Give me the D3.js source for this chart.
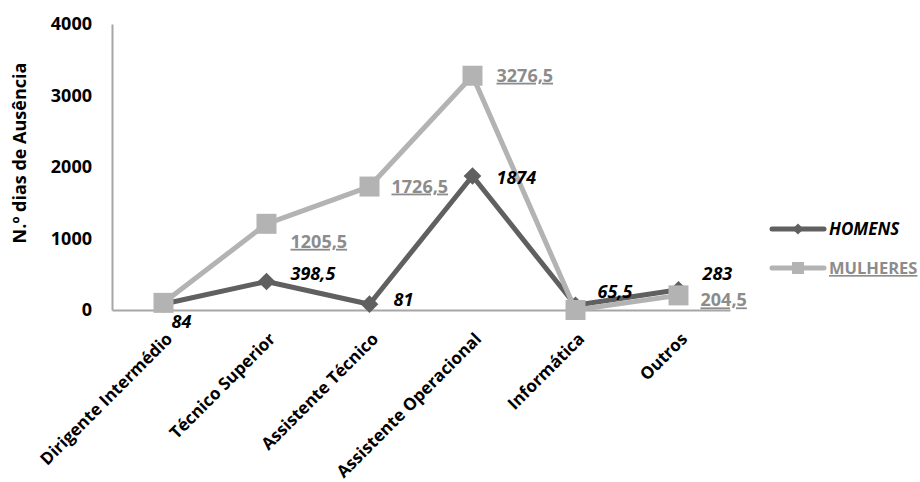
<!DOCTYPE html>
<html>
<head>
<meta charset="utf-8">
<script src="https://cdn.jsdelivr.net/npm/d3@7"></script>
<style>
  body { margin: 0; background: #fff; }
  svg text { font-family: "Open Sans", sans-serif; font-weight: bold; }
</style>
</head>
<body>
<svg id="chart" width="920" height="482"></svg>
<script>
// Absence days per professional category
const categories = ["Dirigente Intermédio", "Técnico Superior", "Assistente Técnico",
                    "Assistente Operacional", "Informática", "Outros"];
const homens   = [84, 398.5, 81, 1874, 65.5, 283];
const mulheres = [100, 1205.5, 1726.5, 3276.5, 0, 204.5];
const yTicks   = [0, 1000, 2000, 3000, 4000];
const seriesNames = ["HOMENS", "MULHERES"];

const fmt = v => String(v).replace(".", ",");

const svg = d3.select("#chart");
const plotLeft = 112, plotRight = 730, plotTop = 24, plotBottom = 310;

const x = d3.scaleBand().domain(categories).range([plotLeft, plotRight]);
const y = d3.scaleLinear().domain([0, 4000]).range([plotBottom, plotTop]);
const cx = c => x(c) + x.bandwidth() / 2;

// axes
const yAxis = svg.append("g").attr("transform", `translate(${plotLeft},0)`)
  .call(d3.axisLeft(y).tickValues(yTicks).tickSize(0).tickPadding(20).tickFormat(d3.format("d")));
yAxis.select(".domain").attr("stroke", "#a6a6a6").attr("stroke-width", 2);
yAxis.selectAll("text").attr("font-size", 18).attr("fill", "#000");

const xAxis = svg.append("g").attr("transform", `translate(0,${plotBottom})`)
  .call(d3.axisBottom(x).tickSize(0).tickPadding(0));
xAxis.select(".domain").attr("stroke", "#a6a6a6").attr("stroke-width", 2);
xAxis.selectAll("text")
  .attr("font-size", 17).attr("fill", "#000")
  .attr("text-anchor", "end")
  .attr("dy", 0)
  .attr("transform", "translate(10,30) rotate(-45)");

svg.append("text")
  .attr("transform", `translate(26,${(plotTop + plotBottom) / 2 - 14}) rotate(-90)`)
  .attr("text-anchor", "middle")
  .attr("font-size", 18).attr("fill", "#000")
  .text("N.º dias de Ausência");

const line = d3.line().x((d, i) => cx(categories[i])).y(d => y(d));

const cH = "#606060", cM = "#b3b3b3";

// HOMENS series: line + diamond markers
svg.append("path").datum(homens).attr("d", line)
  .attr("fill", "none").attr("stroke", cH).attr("stroke-width", 5).attr("stroke-linejoin", "round");
const diamond = d3.symbol().type(d3.symbolDiamond2).size(200);
svg.selectAll(".mh").data(homens).enter().append("path")
  .attr("d", diamond)
  .attr("transform", (d, i) => `translate(${cx(categories[i])},${y(d)})`)
  .attr("fill", cH);

// MULHERES series: line + square markers (drawn on top)
svg.append("path").datum(mulheres).attr("d", line)
  .attr("fill", "none").attr("stroke", cM).attr("stroke-width", 5).attr("stroke-linejoin", "round");
svg.selectAll(".mm").data(mulheres).enter().append("rect")
  .attr("x", (d, i) => cx(categories[i]) - 10)
  .attr("y", d => y(d) - 10)
  .attr("width", 20).attr("height", 20)
  .attr("fill", cM);

// data labels
const hOff = [[8, 18], [24, -8], [24, -4], [24, 2], [22, -13], [24, -16]];
svg.selectAll(".lh").data(homens).enter().append("text")
  .attr("x", (d, i) => cx(categories[i]) + hOff[i][0])
  .attr("y", (d, i) => y(d) + hOff[i][1] + 6)
  .attr("font-size", 18).attr("font-style", "italic").attr("fill", "#000")
  .text(d => fmt(d));

const mOff = [null, [24, 18], [22, 0], [24, 0], null, [22, 5]];
svg.selectAll(".lm").data(mulheres.map((v, i) => ({v, i})).filter(d => mOff[d.i])).enter().append("text")
  .attr("x", d => cx(categories[d.i]) + mOff[d.i][0])
  .attr("y", d => y(d.v) + mOff[d.i][1] + 6)
  .attr("font-size", 18).attr("fill", "#8c8c8c")
  .attr("text-decoration", "underline")
  .text(d => fmt(d.v));

// legend
const lg = svg.append("g");
[[cH, 229, seriesNames[0]], [cM, 268, seriesNames[1]]].forEach(([c, ly, name], k) => {
  lg.append("line").attr("x1", 772).attr("x2", 824).attr("y1", ly).attr("y2", ly)
    .attr("stroke", c).attr("stroke-width", 5).attr("stroke-linecap", "round");
  if (k === 0) {
    lg.append("path").attr("d", d3.symbol().type(d3.symbolDiamond2).size(80))
      .attr("transform", `translate(798,${ly})`).attr("fill", c);
    lg.append("text").attr("x", 829).attr("y", ly + 6).attr("font-size", 17)
      .attr("font-style", "italic").attr("fill", "#000").text(name);
  } else {
    lg.append("rect").attr("x", 792).attr("y", ly - 6).attr("width", 12).attr("height", 12).attr("fill", c);
    lg.append("text").attr("x", 829).attr("y", ly + 6).attr("font-size", 16.5)
      .attr("fill", "#8c8c8c").attr("text-decoration", "underline").text(name);
  }
});
</script>
</body>
</html>
